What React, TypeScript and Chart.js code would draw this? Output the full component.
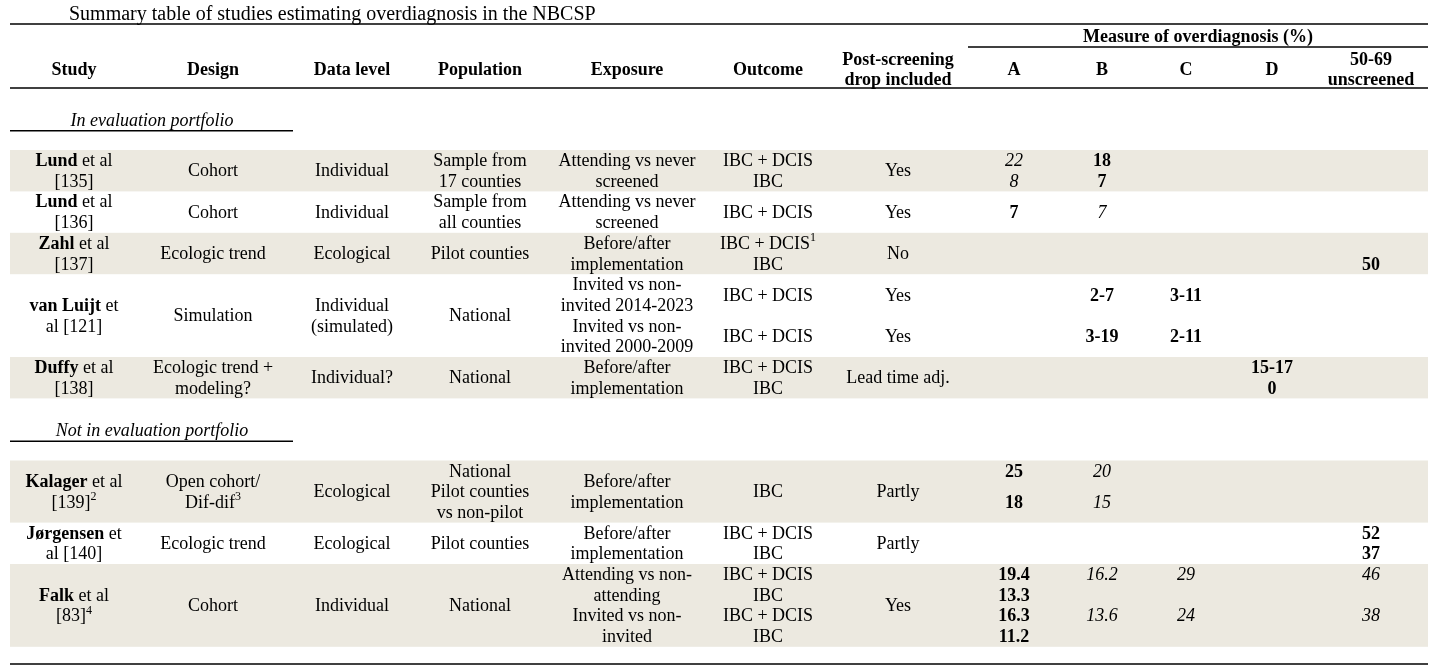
import React, { useEffect, useRef } from "react";
import { Chart, registerables } from "chart.js";

Chart.register(...registerables);

type Cell = string | string[];

// ---------------- DATA ----------------
const TITLE = "Summary table of studies estimating overdiagnosis in the NBCSP";
const MEASURE_TITLE = "Measure of overdiagnosis (%)";
const headers = [
  "Study",
  "Design",
  "Data level",
  "Population",
  "Exposure",
  "Outcome",
  "Post-screening|drop included",
  "A",
  "B",
  "C",
  "D",
  "50-69|unscreened",
];
const sectionTitles = ["In evaluation portfolio", "Not in evaluation portfolio"];
const sectionRowCounts = [5, 3];
const rowLines = [2, 2, 2, 4, 2, 3, 2, 4];
const rowShaded = [true, false, true, false, true, true, false, true];

const studies: Cell[] = [
  "**Lund** et al|[135]",
  "**Lund** et al|[136]",
  "**Zahl** et al|[137]",
  "**van Luijt** et|al [121]",
  "**Duffy** et al|[138]",
  "**Kalager** et al|[139]^{2}",
  "**Jørgensen** et|al [140]",
  "**Falk** et al|[83]^{4}",
];
const designs: Cell[] = [
  "Cohort",
  "Cohort",
  "Ecologic trend",
  "Simulation",
  "Ecologic trend +|modeling?",
  "Open cohort/|Dif-dif^{3}",
  "Ecologic trend",
  "Cohort",
];
const dataLevels: Cell[] = [
  "Individual",
  "Individual",
  "Ecological",
  "Individual|(simulated)",
  "Individual?",
  "Ecological",
  "Ecological",
  "Individual",
];
const populations: Cell[] = [
  "Sample from|17 counties",
  "Sample from|all counties",
  "Pilot counties",
  "National",
  "National",
  "National|Pilot counties|vs non-pilot",
  "Pilot counties",
  "National",
];
const exposures: Cell[] = [
  "Attending vs never|screened",
  "Attending vs never|screened",
  "Before/after|implementation",
  ["Invited vs non-|invited 2014-2023", "Invited vs non-|invited 2000-2009"],
  "Before/after|implementation",
  "Before/after|implementation",
  "Before/after|implementation",
  ["Attending vs non-|attending", "Invited vs non-|invited"],
];
const outcomes: Cell[] = [
  "IBC + DCIS|IBC",
  "IBC + DCIS",
  "IBC + DCIS^{1}|IBC",
  ["IBC + DCIS", "IBC + DCIS"],
  "IBC + DCIS|IBC",
  "IBC",
  "IBC + DCIS|IBC",
  "IBC + DCIS|IBC|IBC + DCIS|IBC",
];
const postScreeningDrop: Cell[] = [
  "Yes",
  "Yes",
  "No",
  ["Yes", "Yes"],
  "Lead time adj.",
  "Partly",
  "Partly",
  "Yes",
];
const measureA: Cell[] = [
  "_22_|_8_",
  "**7**",
  "",
  "",
  "",
  "**25**|~|**18**|~",
  "",
  "**19.4**|**13.3**|**16.3**|**11.2**",
];
const measureB: Cell[] = [
  "**18**|**7**",
  "_7_",
  "",
  ["**2-7**", "**3-19**"],
  "",
  "_20_|~|_15_|~",
  "",
  "_16.2_||_13.6_|",
];
const measureC: Cell[] = ["", "", "", ["**3-11**", "**2-11**"], "", "", "", "_29_||_24_|"];
const measureD: Cell[] = ["", "", "", "", "**15-17**|**0**", "", "", ""];
const unscreened5069: Cell[] = ["", "", "|**50**", "", "", "", "**52**|**37**", "_46_||_38_|"];

const columnsData: Cell[][] = [
  studies,
  designs,
  dataLevels,
  populations,
  exposures,
  outcomes,
  postScreeningDrop,
  measureA,
  measureB,
  measureC,
  measureD,
  unscreened5069,
];

// ---------------- LAYOUT ----------------
const LAYOUT = {
  width: 1433,
  height: 665,
  lineH: 20.7,
  firstBandPx: 150,
  colX: [74, 213, 352, 480, 627, 768, 898, 1014, 1102, 1186, 1272, 1371],
  ruleLeft: 10,
  ruleRight: 1428,
  measureRuleLeft: 968,
  sectionRuleRight: 293,
  titleX: 69,
  sectionTitleX: 152,
  measureTitleX: 1198,
  titleY: -6.57,
  titleRuleY: -6.09,
  measureTitleY: -5.48,
  measureRuleY: -4.98,
  headerY: -3.9,
  headerRuleY: -3.0,
  sectionStart: -3,
  sectionLines: 3,
  sectionTitleOffset: 1.55,
  sectionRuleOffset: 2.07,
  bottomRuleY: 24.83,
  textShiftPx: 1,
  band: "#ECE9E0",
  ink: "#000000",
  font: '"Liberation Serif", "Times New Roman", serif',
  size: 18,
  titleSize: 20,
  supSize: 12,
  supRaisePx: 6,
};

type Seg = { t: string; bold: boolean; italic: boolean; sup: boolean };
type Item = { x: number; y: number; text: string; align: "center" | "left"; size: number; baseBold?: boolean; baseItalic?: boolean };

function parseLine(s: string, baseBold = false, baseItalic = false): Seg[] {
  const segs: Seg[] = [];
  let bold = baseBold;
  let italic = baseItalic;
  let buf = "";
  let i = 0;
  const flush = () => {
    if (buf) {
      segs.push({ t: buf, bold, italic, sup: false });
      buf = "";
    }
  };
  while (i < s.length) {
    if (s.startsWith("**", i)) {
      flush();
      bold = !bold;
      i += 2;
      continue;
    }
    if (s[i] === "_") {
      flush();
      italic = !italic;
      i += 1;
      continue;
    }
    if (s.startsWith("^{", i)) {
      flush();
      const j = s.indexOf("}", i);
      segs.push({ t: s.slice(i + 2, j), bold, italic, sup: true });
      i = j + 1;
      continue;
    }
    buf += s[i];
    i += 1;
  }
  flush();
  return segs;
}

function blockItems(text: string, x: number, center: number, opts: Partial<Item> = {}): Item[] {
  const lines = text.split("|");
  const hs = lines.map((l) => (l === "~" ? 0.5 : 1));
  const total = hs.reduce((a, b) => a + b, 0);
  let top = center - total / 2;
  const out: Item[] = [];
  lines.forEach((l, k) => {
    const y = top + hs[k] / 2;
    if (l !== "~" && l !== "") {
      out.push({ x, y, text: l, align: "center", size: LAYOUT.size, ...opts });
    }
    top += hs[k];
  });
  return out;
}

function buildItems() {
  const items: Item[] = [];
  const bands: { start: number; end: number }[] = [];
  const rules: { l: number; r: number; y: number }[] = [];

  items.push({ x: LAYOUT.titleX, y: LAYOUT.titleY, text: TITLE, align: "left", size: LAYOUT.titleSize });
  items.push({ x: LAYOUT.measureTitleX, y: LAYOUT.measureTitleY, text: MEASURE_TITLE, align: "center", size: LAYOUT.size, baseBold: true });
  headers.forEach((h, c) => {
    items.push(...blockItems(h, LAYOUT.colX[c], LAYOUT.headerY, { baseBold: true }));
  });
  rules.push({ l: LAYOUT.ruleLeft, r: LAYOUT.ruleRight, y: LAYOUT.titleRuleY });
  rules.push({ l: LAYOUT.measureRuleLeft, r: LAYOUT.ruleRight, y: LAYOUT.measureRuleY });
  rules.push({ l: LAYOUT.ruleLeft, r: LAYOUT.ruleRight, y: LAYOUT.headerRuleY });

  let cursor = LAYOUT.sectionStart;
  let row = 0;
  sectionTitles.forEach((st, s) => {
    items.push({ x: LAYOUT.sectionTitleX, y: cursor + LAYOUT.sectionTitleOffset, text: st, align: "center", size: LAYOUT.size, baseItalic: true });
    rules.push({ l: LAYOUT.ruleLeft, r: LAYOUT.sectionRuleRight, y: cursor + LAYOUT.sectionRuleOffset });
    cursor += LAYOUT.sectionLines;
    for (let k = 0; k < sectionRowCounts[s]; k++, row++) {
      const n = rowLines[row];
      const start = cursor;
      if (rowShaded[row]) bands.push({ start, end: start + n });
      columnsData.forEach((col, c) => {
        const cell = col[row];
        if (Array.isArray(cell)) {
          const sub = n / cell.length;
          cell.forEach((part, j) => {
            items.push(...blockItems(part, LAYOUT.colX[c], start + (j + 0.5) * sub));
          });
        } else if (cell) {
          items.push(...blockItems(cell, LAYOUT.colX[c], start + n / 2));
        }
      });
      cursor += n;
    }
  });
  rules.push({ l: LAYOUT.ruleLeft, r: LAYOUT.ruleRight, y: LAYOUT.bottomRuleY });
  return { items, bands, rules };
}

function fontStr(bold: boolean, italic: boolean, size: number) {
  return `${italic ? "italic " : ""}${bold ? "bold " : ""}${size}px ${LAYOUT.font}`;
}

export default function App() {
  const ref = useRef<HTMLCanvasElement | null>(null);

  useEffect(() => {
    const canvas = ref.current;
    if (!canvas) return;
    const { items, bands, rules } = buildItems();

    const tablePlugin = {
      id: "tablePlugin",
      beforeDatasetsDraw(chart: any) {
        const ctx = chart.ctx as CanvasRenderingContext2D;
        const xs = chart.scales.x;
        const ys = chart.scales.y;
        ctx.save();
        ctx.fillStyle = LAYOUT.band;
        bands.forEach((b) => {
          const x0 = xs.getPixelForValue(LAYOUT.ruleLeft);
          const x1 = xs.getPixelForValue(LAYOUT.ruleRight);
          const y0 = ys.getPixelForValue(b.start);
          const y1 = ys.getPixelForValue(b.end);
          ctx.fillRect(x0, y0, x1 - x0, y1 - y0);
        });
        ctx.restore();
      },
      afterDatasetsDraw(chart: any) {
        const ctx = chart.ctx as CanvasRenderingContext2D;
        const meta = chart.getDatasetMeta(0);
        ctx.save();
        ctx.fillStyle = LAYOUT.ink;
        ctx.textBaseline = "middle";
        ctx.textAlign = "left";
        items.forEach((it, i) => {
          const el = meta.data[i];
          if (!el) return;
          const segs = parseLine(it.text, !!it.baseBold, !!it.baseItalic);
          const widths = segs.map((sg) => {
            ctx.font = fontStr(sg.bold, sg.italic, sg.sup ? LAYOUT.supSize : it.size);
            return ctx.measureText(sg.t).width;
          });
          const total = widths.reduce((a, b) => a + b, 0);
          let x = it.align === "center" ? el.x - total / 2 : el.x;
          const y = el.y + LAYOUT.textShiftPx;
          segs.forEach((sg, k) => {
            ctx.font = fontStr(sg.bold, sg.italic, sg.sup ? LAYOUT.supSize : it.size);
            ctx.fillText(sg.t, x, sg.sup ? y - LAYOUT.supRaisePx : y);
            x += widths[k];
          });
        });
        ctx.restore();
      },
    };

    const ruleDatasets = rules.map((r) => ({
      type: "line" as const,
      data: [
        { x: r.l, y: r.y },
        { x: r.r, y: r.y },
      ],
      borderColor: LAYOUT.ink,
      borderWidth: 1.5,
      pointRadius: 0,
      fill: false,
    }));

    const chart = new Chart(canvas, {
      type: "scatter",
      data: {
        datasets: [
          {
            data: items.map((it) => ({ x: it.x, y: it.y })),
            pointRadius: 0,
            pointHoverRadius: 0,
          } as any,
          ...(ruleDatasets as any[]),
        ],
      },
      options: {
        animation: false,
        responsive: false,
        events: [],
        layout: { padding: 0 },
        plugins: { legend: { display: false }, tooltip: { enabled: false } },
        scales: {
          x: { type: "linear", display: false, min: 0, max: LAYOUT.width },
          y: {
            type: "linear",
            display: false,
            reverse: true,
            min: -LAYOUT.firstBandPx / LAYOUT.lineH,
            max: (LAYOUT.height - LAYOUT.firstBandPx) / LAYOUT.lineH,
          },
        },
      },
      plugins: [tablePlugin],
    });
    return () => chart.destroy();
  }, []);

  return (
    <div style={{ position: "absolute", left: 0, top: 0, width: LAYOUT.width, height: LAYOUT.height, background: "#fff" }}>
      <canvas ref={ref} width={LAYOUT.width} height={LAYOUT.height} style={{ display: "block" }} />
    </div>
  );
}
